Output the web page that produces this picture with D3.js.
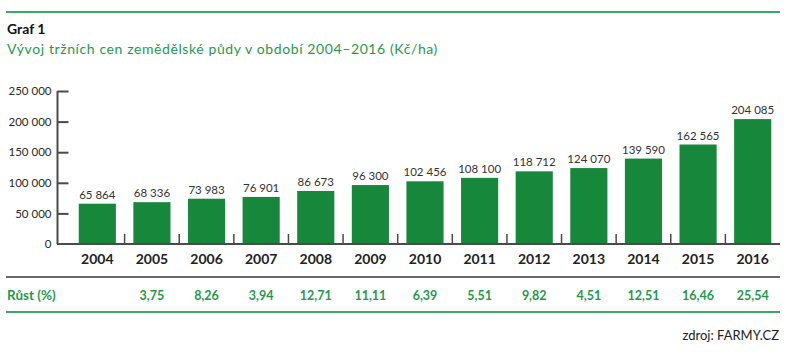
<!DOCTYPE html>
<html>
<head>
<meta charset="utf-8">
<script src="https://cdn.jsdelivr.net/npm/d3@7"></script>
<style>
  html, body { margin: 0; padding: 0; background: #fff; }
  svg { display: block; font-family: Lato, "Open Sans", sans-serif; }
</style>
</head>
<body>
<svg id="chart" width="800" height="360"></svg>
<script>
const years = ["2004","2005","2006","2007","2008","2009","2010","2011","2012","2013","2014","2015","2016"];
const prices = [65864, 68336, 73983, 76901, 86673, 96300, 102456, 108100, 118712, 124070, 139590, 162565, 204085];
const growth = [null, 3.75, 8.26, 3.94, 12.71, 11.11, 6.39, 5.51, 9.82, 4.51, 12.51, 16.46, 25.54];
const yTicks = [0, 50000, 100000, 150000, 200000, 250000];
const titleSmall = "Graf 1";
const titleMain = "Vývoj tržních cen zemědělské půdy v období 2004–2016 (Kč/ha)";
const growthLabel = "Růst (%)";
const source = "zdroj: FARMY.CZ";

const locale = d3.formatLocale({decimal: ",", thousands: " ", grouping: [3], currency: ["", ""]});
const fmtInt = locale.format(",d");
const fmtPct = locale.format(".2f");

const svg = d3.select("#chart");
const green = "#17873b";
const lightGreen = "#3aa866";
const textGreen = "#1f9a4c";
const dark = "#2a2a2a";
const axisCol = "#4a4a4a";

svg.append("rect").attr("width", 800).attr("height", 360).attr("fill", "#fff");

// top rule
svg.append("line").attr("x1", 6).attr("x2", 780).attr("y1", 12).attr("y2", 12)
  .attr("stroke", lightGreen).attr("stroke-width", 2);

svg.append("text").attr("x", 7).attr("y", 34).text(titleSmall)
  .attr("font-size", 14).attr("font-weight", 700).attr("fill", "#111");
svg.append("text").attr("x", 7).attr("y", 54).text(titleMain)
  .attr("font-size", 14).attr("letter-spacing", 0.6).attr("fill", textGreen);

const x = d3.scaleBand().domain(years).range([70, 780]).paddingInner(0.32).paddingOuter(0.16);
const y = d3.scaleLinear().domain([0, 250000]).range([244, 91]);

// bars
svg.append("g").selectAll("rect").data(prices).join("rect")
  .attr("x", (d, i) => x(years[i]))
  .attr("y", d => y(d))
  .attr("width", x.bandwidth())
  .attr("height", d => y(0) - y(d))
  .attr("fill", green);

// value labels
svg.append("g").selectAll("text").data(prices).join("text")
  .attr("x", (d, i) => x(years[i]) + x.bandwidth() / 2)
  .attr("y", d => y(d) - 5)
  .attr("text-anchor", "middle")
  .attr("font-size", 11.5)
  .attr("fill", "#333")
  .text(d => fmtInt(d));

// y axis
const yAxis = d3.axisRight(y).tickValues(yTicks).tickSize(11).tickFormat(d => fmtInt(d));
const gy = svg.append("g").attr("transform", "translate(57.5,0)").call(yAxis);
gy.select(".domain").attr("stroke", axisCol).attr("stroke-width", 2).attr("d", "M0,91V244");
gy.selectAll(".tick line").attr("stroke", axisCol).attr("stroke-width", 2);
gy.selectAll(".tick text").attr("x", -6).attr("text-anchor", "end")
  .attr("font-size", 11.5).attr("fill", dark).attr("font-family", "Lato, sans-serif");
gy.selectAll(".tick").filter(d => d === 0).select("line").remove();

// x axis baseline
svg.append("line").attr("x1", 57).attr("x2", 780).attr("y1", 244).attr("y2", 244)
  .attr("stroke", axisCol).attr("stroke-width", 2);

// separators between bars
const step = x.step();
svg.append("g").selectAll("line").data(years.slice(1)).join("line")
  .attr("x1", d => x(d) - (step - x.bandwidth()) / 2)
  .attr("x2", d => x(d) - (step - x.bandwidth()) / 2)
  .attr("y1", 244).attr("y2", 234)
  .attr("stroke", axisCol).attr("stroke-width", 1.5);

// x labels
const xAxis = d3.axisBottom(x).tickSize(0).tickPadding(10);
const gx = svg.append("g").attr("transform", "translate(0,244)").call(xAxis);
gx.select(".domain").remove();
gx.selectAll(".tick text").attr("font-size", 14).attr("font-weight", 700)
  .attr("fill", "#222").attr("font-family", "Lato, sans-serif");

// gray rule
svg.append("line").attr("x1", 6).attr("x2", 780).attr("y1", 277).attr("y2", 277)
  .attr("stroke", "#6a6a6a").attr("stroke-width", 2);

// growth row
svg.append("text").attr("x", 7).attr("y", 300).text(growthLabel)
  .attr("font-size", 13.5).attr("font-weight", 700).attr("fill", textGreen);
svg.append("g").selectAll("text").data(growth).join("text")
  .attr("x", (d, i) => x(years[i]) + x.bandwidth() / 2)
  .attr("y", 300)
  .attr("text-anchor", "middle")
  .attr("font-size", 12.5).attr("font-weight", 700).attr("fill", textGreen)
  .text(d => d == null ? "" : fmtPct(d));

svg.append("line").attr("x1", 6).attr("x2", 780).attr("y1", 312).attr("y2", 312)
  .attr("stroke", lightGreen).attr("stroke-width", 2);

svg.append("text").attr("x", 779).attr("y", 340).attr("text-anchor", "end")
  .attr("font-size", 13).attr("fill", "#222").text(source);
</script>
</body>
</html>
